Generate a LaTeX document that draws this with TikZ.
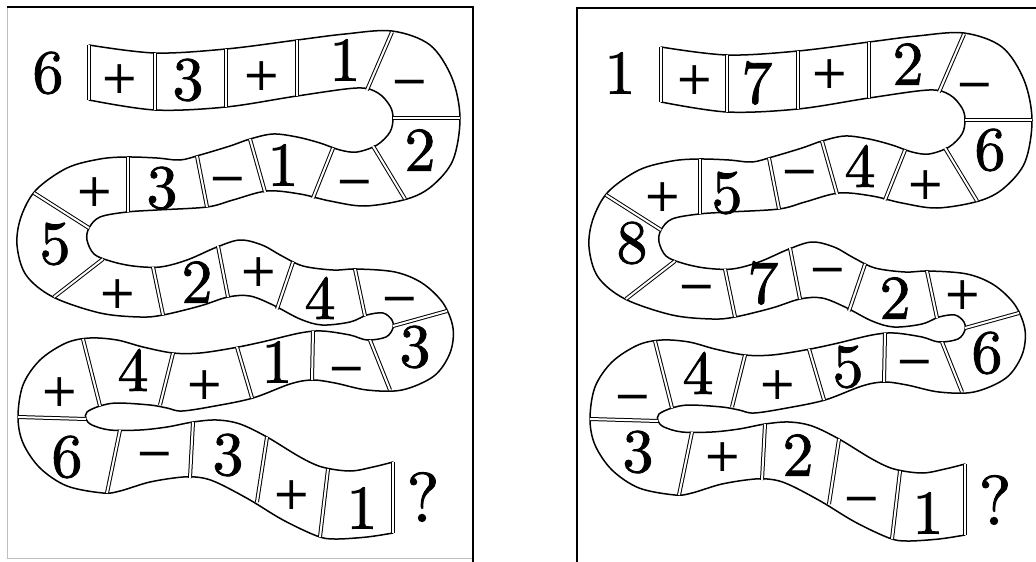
\documentclass[tikz,border=0pt]{standalone}
\usepackage{fontspec}
\newfontfamily\numfont[FakeBold=1.3]{lmroman10-regular.otf}
\newfontfamily\opfont{DejaVu Serif}
\begin{document}
\tikzset{
  edge/.style={line width=1.5pt, line join=round, line cap=round},
  divider/.style={double=white, double distance=2pt, line width=1pt},
  num/.style={font=\numfont\fontsize{62}{62}\selectfont, inner sep=0pt},
  op/.style={font=\opfont\fontsize{46}{46}\selectfont, inner sep=0pt, anchor=base, yshift=-16pt},
  qm/.style={font=\numfont\fontsize{70}{70}\selectfont, inner sep=0pt},
  frame dark/.style={line width=1.6pt, black},
  frame light/.style={line width=0.8pt, black!25}
}
\newcommand\snakeshape{%
  % side A
  \draw[edge] plot[smooth, tension=0.55] coordinates {
    (89,45) (155,53) (226,49) (297,40) (345,34) (392,31) (430,45) (452,78)
    (460,118) (453,160) (432,186) (407,199) (365,206) (330,201) (300,194)
    (267,191) (233,200) (207,207) (157,210) (127,212) (100,217) (89,228)
    (87,240) (94,254) (110,261) (133,266) (160,267) (187,260) (217,247)
    (240,240) (262,245) (282,256) (303,266) (333,270) (357,269) (395,272)
    (422,283) (443,303) (453,328) (450,353) (434,376) (402,390) (367,390)
    (335,383) (312,380) (290,384) (253,398) (215,406) (182,411) (167,408)
    (150,405) (117,403) (100,406) (87,412) (86,419) (92,425) (110,430)
    (140,430) (167,427) (193,422) (217,420) (240,424) (267,437) (300,457)
    (322,467) (350,471) (373,467) (393,462)};
  % side B
  \draw[edge] plot[smooth, tension=0.55] coordinates {
    (89,100) (155,110) (226,107) (297,96) (357,88) (378,93) (390,106)
    (393,118) (390,132) (377,145) (357,152) (340,150) (320,143) (297,137)
    (273,134) (250,139) (230,146) (200,155) (180,160) (157,158) (127,157)
    (100,159) (67,168) (36,190) (21,217) (17,245) (26,275) (53,297)
    (100,313) (140,317) (163,315) (200,306) (228,297) (250,296) (273,305)
    (300,319) (322,325) (350,322) (367,315) (383,313) (392,320) (393,328)
    (386,337) (367,340) (350,335) (322,331) (300,333) (262,342) (233,348)
    (200,353) (173,353) (143,347) (117,340) (90,338) (66,343) (40,360)
    (23,385) (18,417) (23,443) (40,468) (67,486) (103,493) (120,491)
    (150,482) (183,477) (203,478) (220,484) (250,500) (283,520) (317,536)
    (335,539) (367,537) (393,533)};
  % end caps
  \draw[divider] (89,45) -- (89,100);
  \draw[divider] (393,462) -- (393,533);
  % row 1
  \draw[divider] (155,53) -- (155,110);
  \draw[divider] (226,49) -- (226,107);
  \draw[divider] (297,40) -- (297,96);
  \draw[divider] (367,90) -- (392,32);
  \draw[divider] (393,118) -- (460,118);
  % row 2
  \draw[divider] (373,146) -- (405,199);
  \draw[divider] (333,148) -- (313,198);
  \draw[divider] (250,139) -- (265,192);
  \draw[divider] (197,156) -- (207,207);
  \draw[divider] (128,157) -- (128,212);
  \draw[divider] (34,193) -- (89,228);
  % row 3
  \draw[divider] (54,297) -- (103,259);
  \draw[divider] (153,267) -- (163,315);
  \draw[divider] (218,246) -- (228,297);
  \draw[divider] (293,262) -- (277,309);
  \draw[divider] (355,269) -- (365,316);
  \draw[divider] (393,326) -- (447,311);
  % row 4
  \draw[divider] (370,340) -- (390,390);
  \draw[divider] (313,331) -- (312,380);
  \draw[divider] (237,347) -- (252,398);
  \draw[divider] (173,353) -- (160,405);
  \draw[divider] (83,339) -- (100,406);
  \draw[divider] (18,417) -- (86,419);
  % row 5
  \draw[divider] (120,430) -- (107,493);
  \draw[divider] (193,422) -- (190,478);
  \draw[divider] (267,437) -- (257,502);
  \draw[divider] (328,469) -- (320,537);
}
\begin{tikzpicture}[x=1pt,y=-1pt]
  \useasboundingbox (0,0) rectangle (1036,562);
  % frames
  \draw[frame light] (7,7) -- (7,558) -- (473,558);
  \draw[frame dark] (7,7) -- (473,7) -- (473,562);
  \draw[frame dark] (577,562) -- (577,8) -- (1036,8);
  % snakes
  \snakeshape
  \begin{scope}[shift={(572,2)}]
    \snakeshape
  \end{scope}
  % left labels
  \foreach \t/\x/\y [count=\i] in {6/48/73, 3/188/80, 1/345/60, 2/420/150,
      1/283/165, 3/162/188, 5/55/244, 2/197/282, 4/320/298, 3/415/347,
      1/277/362, 4/133/370, 6/67/457, 3/228/455, 1/362/508}
    \node[num] (ld\i) at (\x,\y) {\t};
  \foreach \t/\x/\y [count=\i] in {+/120/77, +/262/74, −/410/80, −/355/180,
      −/228/177, +/95/190, +/118/292, +/259/270, −/400/297, −/347/367,
      +/205/383, +/60/390, −/155/452, +/292/493}
    \node[op] (lo\i) at (\x,\y) {\t};
  \node[qm] (lq) at (423,497) {?};
  % right labels
  \foreach \t/\x/\y [count=\i] in {1/620/73, 7/757/83, 2/908/64, 6/990/150,
      4/860/166, 5/727/193, 8/632/243, 7/763/283, 2/895/298, 6/987/353,
      5/848/367, 4/698/373, 3/638/452, 2/798/455, 1/928/513}
    \node[num] (rd\i) at (\x,\y) {\t};
  \foreach \t/\x/\y [count=\i] in {+/695/78, +/830/72, −/975/83, +/926/183,
      −/800/170, +/663/195, −/697/285, −/828/268, +/963/293, −/915/360,
      +/778/383, −/633/395, +/723/455, −/862/497}
    \node[op] (ro\i) at (\x,\y) {\t};
  \node[qm] (rq) at (995,500) {?};
\end{tikzpicture}
\end{document}
